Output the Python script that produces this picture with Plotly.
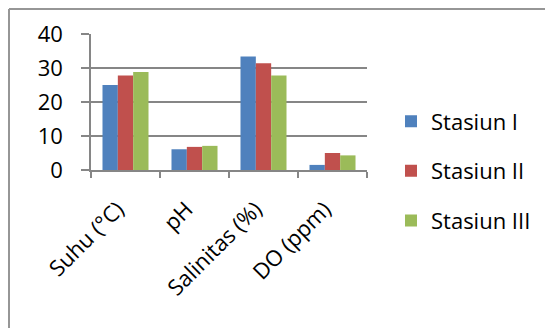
import plotly.graph_objects as go

categories = ["Suhu (°C)", "pH", "Salinitas (%)", "DO (ppm)"]
stasiun_1 = [25.0, 6.1, 33.4, 1.5]
stasiun_2 = [27.8, 6.8, 31.4, 5.0]
stasiun_3 = [28.8, 7.1, 27.8, 4.3]
series_names = ["Stasiun I", "Stasiun II", "Stasiun III"]
colors = ["#4F81BD", "#C0504D", "#9BBB59"]
y_ticks = [0, 10, 20, 30, 40]

# page has an 8px body margin; figure coords = page coords - 8
W, H = 537, 320
L, T = 83, 26
PW, PH = 276, 136

fig = go.Figure()
for i, (name, vals) in enumerate(zip(series_names, [stasiun_1, stasiun_2, stasiun_3])):
    fig.add_trace(go.Bar(x=categories, y=vals, name=name, marker_color=colors[i],
                         marker_line_width=0, legendgroup=f"g{i}"))

font = "Open Sans, Liberation Sans, sans-serif"
bx = (1 - L) / PW
by = (T + PH - 1) / PH
fig.update_layout(
    width=W, height=H,
    margin=dict(l=L, r=W - L - PW, t=T, b=H - T - PH, autoexpand=False),
    paper_bgcolor="white", plot_bgcolor="white",
    barmode="group", bargap=0.333, bargroupgap=0,
    font=dict(family=font, size=22, color="#000000"),
    legend=dict(x=(383 - L) / PW, xanchor="left", y=-0.007, yanchor="middle",
                font=dict(size=22), tracegroupgap=18, bgcolor="rgba(0,0,0,0)"),
    xaxis=dict(showgrid=False, showline=True, linecolor="#868686", linewidth=1.5,
               ticks="outside", ticklen=6, tickcolor="#868686", tickwidth=1.5,
               tickson="boundaries", tickangle=-45, tickfont=dict(size=22),
               ticklabelstandoff=16, ticklabelshift=-8, automargin=False),
    yaxis=dict(range=[0, 40], tickvals=y_ticks, showgrid=True, gridcolor="#868686",
               gridwidth=1.5, showline=True, linecolor="#868686", linewidth=1.5,
               ticks="outside", ticklen=8, tickcolor="#868686", tickwidth=1.5,
               zeroline=False, tickfont=dict(size=22), ticklabelstandoff=14,
               automargin=False),
    shapes=[
        dict(type="line", xref="paper", yref="paper", x0=bx, x1=(W + 20 - L) / PW,
             y0=by, y1=by, line=dict(color="#969696", width=2), layer="below"),
        dict(type="line", xref="paper", yref="paper", x0=bx, x1=bx,
             y0=by, y1=(T + PH - H - 20) / PH, line=dict(color="#969696", width=2),
             layer="below"),
    ],
)
fig.write_html("out.html")
